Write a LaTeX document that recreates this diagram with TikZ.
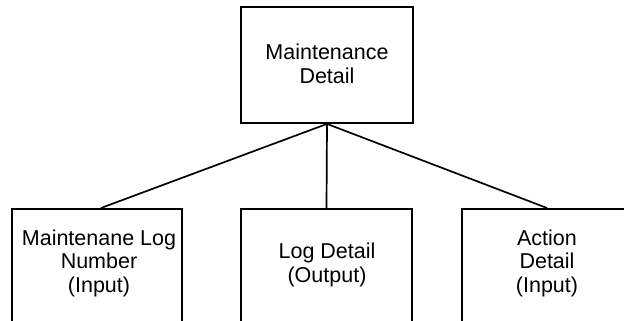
\documentclass[tikz,border=0pt]{standalone}
\usepackage{fontspec}
\setmainfont{Liberation Sans}
\begin{document}
\begin{tikzpicture}[x=1bp,y=-1bp,
  box/.style={draw=black, line width=1.8bp, fill=white, inner sep=0pt},
  lbl/.style={align=center, inner sep=0pt, font=\fontsize{21.5bp}{23.5bp}\selectfont},
  link/.style={draw=black, line width=1.7bp}]
\clip (0,0) rectangle (624,320);
\fill[white] (0,0) rectangle (624,320);
% top box
\node[box, minimum width=172bp, minimum height=116bp] (top) at (327,65) {};
\node[lbl] (toptext) at (327,64) {Maintenance\\Detail};
% bottom boxes (extend beyond lower edge)
\node[box, anchor=north, minimum width=170bp, minimum height=140bp] (left) at (97,208) {};
\node[box, anchor=north, minimum width=171bp, minimum height=140bp] (mid) at (326.5,208) {};
\node[box, anchor=north, minimum width=170bp, minimum height=140bp] (right) at (547,208) {};
\node[lbl] (lefttext) at (99,263) {Maintenane Log\\Number\\(Input)};
\node[lbl] (midtext) at (327,265) {Log Detail\\(Output)};
\node[lbl] (righttext) at (547,263) {Action\\Detail\\(Input)};
% connectors
\draw[link] (top.south) -- ([xshift=4bp]left.north);
\draw[link] (top.south) -- (mid.north);
\draw[link] (top.south) -- (right.north);
\end{tikzpicture}
\end{document}
